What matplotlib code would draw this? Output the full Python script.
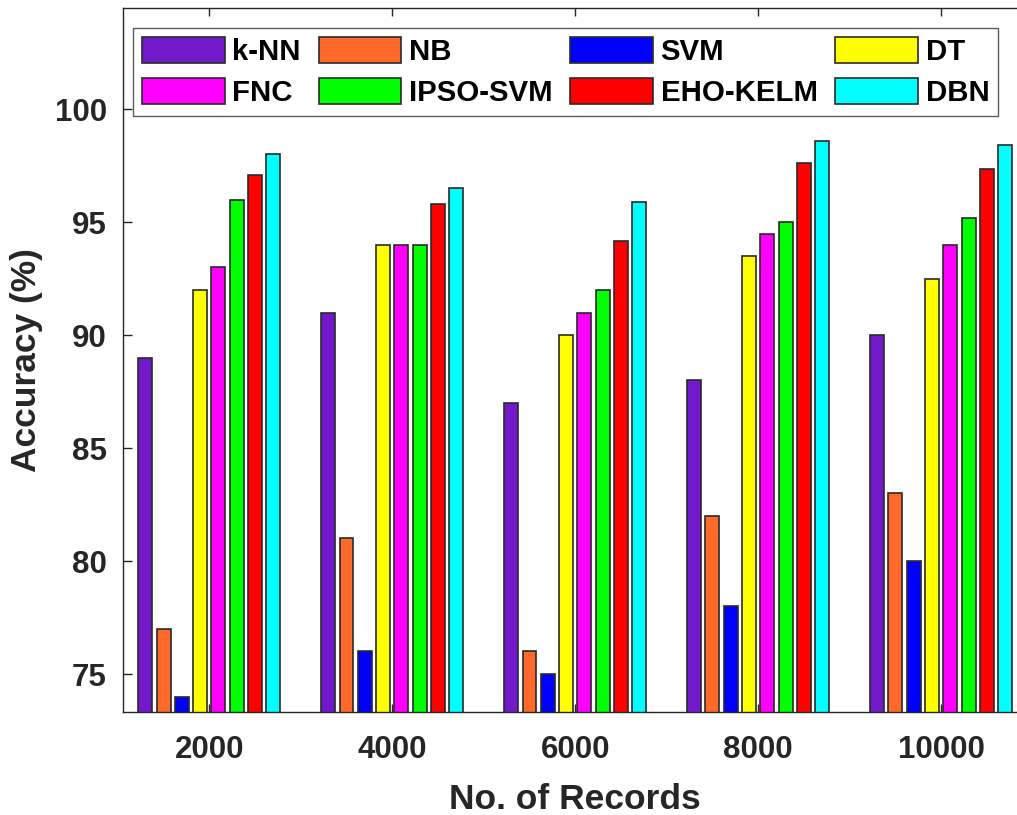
#!/usr/bin/env python3
import numpy as np
import matplotlib
matplotlib.use('Agg')
import matplotlib.pyplot as plt

plt.rcParams.update({
    'font.family': ['Liberation Sans', 'DejaVu Sans'],
    'font.weight': 'bold',
    'axes.labelweight': 'bold',
})

# Data
records = ['2000', '4000', '6000', '8000', '10000']
methods = ['k-NN', 'NB', 'SVM', 'DT', 'FNC', 'IPSO-SVM', 'EHO-KELM', 'DBN']
knn = [89, 91, 87, 88, 90]
nb = [77, 81, 76, 82, 83]
svm = [74, 76, 75, 78, 80]
dt = [92, 94, 90, 93.5, 92.5]
fnc = [93, 94, 91, 94.5, 94]
ipso_svm = [96, 94, 92, 95, 95.2]
eho_kelm = [97.1, 95.8, 94.15, 97.6, 97.35]
dbn = [98, 96.5, 95.9, 98.6, 98.4]
series = [knn, nb, svm, dt, fnc, ipso_svm, eho_kelm, dbn]

COLORS = ['#7219CC', '#FF6A2A', '#0000FF', '#FFFF00',
          '#FF00FF', '#00FF00', '#FF0000', '#00FFFF']

TXT = '#262626'


def main():
    fig = plt.figure(figsize=(10.17, 8.15), dpi=100)
    # axes runs a little past the right edge, as in the reference crop
    ax = fig.add_axes([0.1207, 0.1267, 0.8898, 0.8634])

    x = np.arange(len(records))
    slot = 0.1
    width = 0.076
    handles = []
    for i, (vals, name) in enumerate(zip(series, methods)):
        offs = (i - (len(methods) - 1) / 2) * slot
        b = ax.bar(x + offs, vals, width=width, color=COLORS[i],
                   edgecolor='#2a2a2a', linewidth=1.2, label=name, zorder=2)
        handles.append(b)

    ax.set_xlim(-0.473, len(records) - 1 + 0.473)
    ax.set_ylim(73.33, 104.48)
    ax.set_xticks(x)
    ax.set_xticklabels(records)
    ax.set_yticks([75, 80, 85, 90, 95, 100])

    ax.tick_params(axis='both', direction='in', colors=TXT, labelsize=22.5,
                   width=1.0, top=True, right=True)
    ax.tick_params(axis='y', length=6.2, pad=11.5)
    ax.tick_params(axis='x', length=5.5, pad=16.5)
    for s in ax.spines.values():
        s.set_color(TXT)
        s.set_linewidth(1.0)

    ax.set_xlabel('No. of Records', fontsize=25.5, color=TXT)
    ax.set_ylabel('Accuracy (%)', fontsize=25.5, color=TXT)
    ax.xaxis.set_label_coords(0.5, -0.101)
    ax.yaxis.set_label_coords(-0.088, 0.5)

    # legend in rows: k-NN NB SVM DT / FNC IPSO-SVM EHO-KELM DBN (column-major fill)
    order = [0, 4, 1, 5, 2, 6, 3, 7]
    leg = ax.legend([handles[k] for k in order], [methods[k] for k in order],
                    ncol=4, loc='upper left', bbox_to_anchor=(0.0115, 0.971),
                    fontsize=21.2, frameon=True, fancybox=False, shadow=False,
                    handlelength=2.81, handleheight=0.95, handletextpad=0.26,
                    columnspacing=0.6, labelspacing=0.42, borderpad=0.3,
                    borderaxespad=0.0)
    leg.get_frame().set_edgecolor('#333333')
    leg.get_frame().set_linewidth(1.0)
    for t in leg.get_texts():
        t.set_color('black')

    plt.savefig('out.png', dpi=100)
    plt.close()


if __name__ == "__main__":
    main()
